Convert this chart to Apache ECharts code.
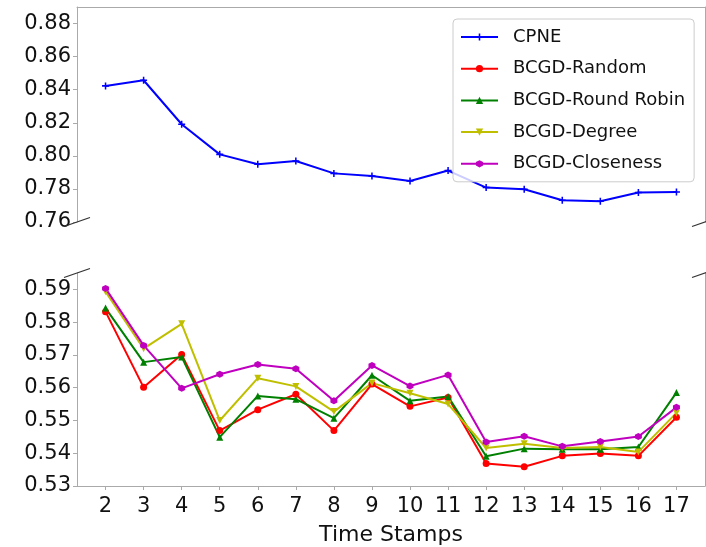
<!DOCTYPE html>
<html>
<head>
<meta charset="utf-8">
<script src="https://cdn.jsdelivr.net/npm/echarts@6/dist/echarts.min.js"></script>
<style>
  html, body { margin: 0; padding: 0; background: #fff; }
  #chart { width: 706px; height: 547px; }
</style>
</head>
<body>
<div id="chart"></div>
<script>
// time stamps on the x axis
var stamps = [2, 3, 4, 5, 6, 7, 8, 9, 10, 11, 12, 13, 14, 15, 16, 17]

// upper panel
var cpne = [0.8423, 0.8457, 0.8191, 0.8009, 0.7949, 0.7969, 0.7894, 0.7878,
  0.7848, 0.7911, 0.7808, 0.7798, 0.7731, 0.7725, 0.7778, 0.7781]

// lower panel
var bcgdRandom = [0.5832, 0.5601, 0.5701, 0.5469, 0.5533, 0.5580, 0.5469, 0.5611,
  0.5543, 0.5570, 0.5369, 0.5359, 0.5392, 0.5399, 0.5392, 0.5510]
var bcgdRoundRobin = [0.5843, 0.5678, 0.5694, 0.5449, 0.5575, 0.5565, 0.5507, 0.5638,
  0.5560, 0.5573, 0.5391, 0.5414, 0.5412, 0.5412, 0.5419, 0.5585]
var bcgdDegree = [0.5893, 0.5719, 0.5795, 0.5500, 0.5629, 0.5604, 0.5527, 0.5614,
  0.5583, 0.5550, 0.5416, 0.5429, 0.5416, 0.5419, 0.5404, 0.5523]
var bcgdCloseness = [0.5903, 0.5729, 0.5598, 0.5641, 0.5671, 0.5658, 0.5560, 0.5668,
  0.5605, 0.5639, 0.5434, 0.5452, 0.5421, 0.5436, 0.5451, 0.5540]

// tick labels
var topTicks = [0.76, 0.78, 0.80, 0.82, 0.84, 0.86, 0.88]
var bottomTicks = [0.53, 0.54, 0.55, 0.56, 0.57, 0.58, 0.59]

var chart = echarts.init(document.getElementById('chart'))

// panel geometry
var L = 77, R = 1, W = 706 - L - R
var topT = 7, topH = 215
var botT = 273, botH = 215

var spine = '#aaaaaa'
var font = 'DejaVu Sans'

function pairs(vals) {
  return stamps.map(function(s, i) { return [s, vals[i]] })
}

var plusSym = 'path://M-1,-0.22 L-0.22,-0.22 L-0.22,-1 L0.22,-1 L0.22,-0.22 L1,-0.22 L1,0.22 L0.22,0.22 L0.22,1 L-0.22,1 L-0.22,0.22 L-1,0.22 Z'
var hexSym = 'path://M0,-1 L0.866,-0.5 L0.866,0.5 L0,1 L-0.866,0.5 L-0.866,-0.5 Z'

function lineSeries(name, vals, color, symbol, size, xi, yi, rotate) {
  return {
    name: name,
    type: 'line',
    xAxisIndex: xi,
    yAxisIndex: yi,
    data: pairs(vals),
    symbol: symbol,
    symbolSize: size,
    symbolRotate: rotate || 0,
    showSymbol: true,
    color: color,
    lineStyle: { color: color, width: 2 },
    itemStyle: { color: color, borderWidth: 0 },
    emphasis: { disabled: true }
  }
}

function yLeft(grid, min, max, ticks) {
  return {
    type: 'value', gridIndex: grid, position: 'left', min: min, max: max,
    splitLine: { show: false },
    axisLine: { show: true, onZero: false, lineStyle: { color: spine } },
    axisTick: { show: true, length: 4, lineStyle: { color: spine }, customValues: ticks },
    axisLabel: {
      margin: 6, color: '#111', fontSize: 21, fontFamily: font,
      customValues: ticks,
      formatter: function(v) { return v.toFixed(2) }
    }
  }
}

function yRight(grid, min, max) {
  return {
    type: 'value', gridIndex: grid, position: 'right', min: min, max: max,
    splitLine: { show: false },
    axisLine: { show: true, onZero: false, lineStyle: { color: spine } },
    axisTick: { show: false },
    axisLabel: { show: false }
  }
}

// broken-axis marks at the corners
function breakMark(cx, cy) {
  return {
    type: 'line',
    shape: { x1: cx - 13, y1: cy + 4.5, x2: cx + 13, y2: cy - 4.5 },
    style: { stroke: '#333', lineWidth: 1.3 },
    z: 100
  }
}

var option = {
  animation: false,
  backgroundColor: '#fff',
  textStyle: { fontFamily: font },
  grid: [
    { left: L, right: R, top: topT, height: topH },
    { left: L, right: R, top: botT, height: botH }
  ],
  xAxis: [
    {
      type: 'value', gridIndex: 0, position: 'top', min: 1.25, max: 17.75,
      splitLine: { show: false },
      axisLine: { show: true, onZero: false, lineStyle: { color: spine } },
      axisTick: { show: false },
      axisLabel: { show: false }
    },
    {
      type: 'value', gridIndex: 1, position: 'bottom', min: 1.25, max: 17.75,
      splitLine: { show: false },
      axisLine: { show: true, onZero: false, lineStyle: { color: spine } },
      axisTick: { show: true, length: 4, lineStyle: { color: spine }, customValues: stamps },
      axisLabel: {
        margin: 10, color: '#111', fontSize: 21, fontFamily: font,
        customValues: stamps
      },
      name: 'Time Stamps',
      nameLocation: 'middle',
      nameGap: 38,
      nameTextStyle: { color: '#111', fontSize: 22, fontFamily: font }
    }
  ],
  yAxis: [
    yLeft(0, 0.76, 0.89, topTicks),
    yRight(0, 0.76, 0.89),
    yLeft(1, 0.53, 0.595, bottomTicks),
    yRight(1, 0.53, 0.595)
  ],
  legend: {
    orient: 'vertical',
    left: 453,
    top: 19,
    padding: [7, 9, 7, 7],
    itemWidth: 37,
    itemHeight: 9,
    itemGap: 9.7,
    backgroundColor: 'rgba(255,255,255,0.8)',
    borderColor: '#cccccc',
    borderWidth: 1,
    borderRadius: 4,
    textStyle: {
      color: '#111', fontSize: 18, fontFamily: font,
      lineHeight: 22, padding: [0, 0, 0, 10]
    },
    data: ['CPNE', 'BCGD-Random', 'BCGD-Round Robin', 'BCGD-Degree', 'BCGD-Closeness']
  },
  graphic: [
    breakMark(L, topT + topH),
    breakMark(L + W, topT + topH),
    breakMark(L, botT),
    breakMark(L + W, botT)
  ],
  series: [
    lineSeries('CPNE', cpne, '#0000ff', plusSym, 7, 0, 0),
    lineSeries('BCGD-Random', bcgdRandom, '#ff0000', 'circle', 7, 1, 2),
    lineSeries('BCGD-Round Robin', bcgdRoundRobin, '#008000', 'triangle', 7, 1, 2),
    lineSeries('BCGD-Degree', bcgdDegree, '#bfbf00', 'triangle', 7, 1, 2, 180),
    lineSeries('BCGD-Closeness', bcgdCloseness, '#bf00bf', hexSym, 7, 1, 2)
  ]
}

chart.setOption(option)
</script>
</body>
</html>
